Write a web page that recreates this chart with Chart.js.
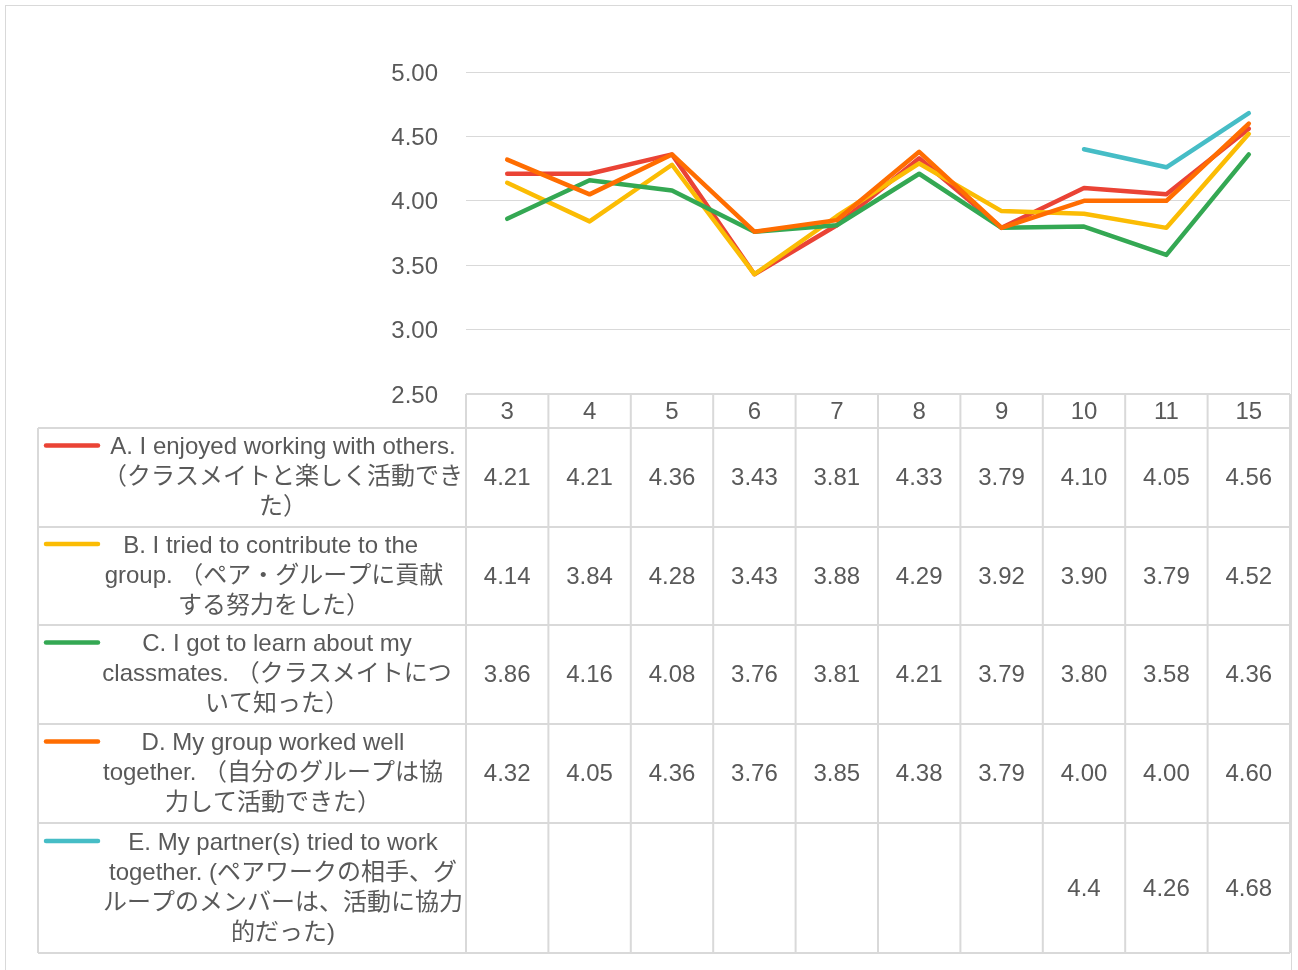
<!DOCTYPE html>
<html>
<head>
<meta charset="utf-8">
<script src="https://cdn.jsdelivr.net/npm/chart.js@4"></script>
<style>
  body { margin: 0; background: #fff; }
  canvas { display: block; }
</style>
</head>
<body>
<canvas id="groupWork" width="1298" height="970"></canvas>
<script>
// lesson numbers on the x axis / table header
const lessons = ['3', '4', '5', '6', '7', '8', '9', '10', '11', '15'];

const enjoyed     = [4.21, 4.21, 4.36, 3.43, 3.81, 4.33, 3.79, 4.10, 4.05, 4.56];
const contributed = [4.14, 3.84, 4.28, 3.43, 3.88, 4.29, 3.92, 3.90, 3.79, 4.52];
const learned     = [3.86, 4.16, 4.08, 3.76, 3.81, 4.21, 3.79, 3.80, 3.58, 4.36];
const workedWell  = [4.32, 4.05, 4.36, 3.76, 3.85, 4.38, 3.79, 4.00, 4.00, 4.60];
const partners    = [null, null, null, null, null, null, null, 4.4, 4.26, 4.68];

const enjoyedText     = ['A. I enjoyed working with others.', '（クラスメイトと楽しく活動でき', 'た）'];
const contributedText = ['B. I tried to contribute to the ', 'group. （ペア・グループに貢献', 'する努力をした）'];
const learnedText     = ['C. I got to learn about my', 'classmates. （クラスメイトにつ', 'いて知った）'];
const workedWellText  = ['D. My group worked well', 'together. （自分のグループは協', '力して活動できた）'];
const partnersText    = ['E. My partner(s) tried to work', 'together. (ペアワークの相手、グ', 'ループのメンバーは、活動に協力', '的だった)'];

const yTicks = { min: 2.5, max: 5, step: 0.5 };

const FONT = "24px 'Liberation Sans', Arial, 'Noto Sans CJK JP', sans-serif";
const TEXT = '#595959';
const RULE = '#d9d9d9';

// table geometry
const tableLeft = 38;
const headerH = 34;
const rowH = [99, 98, 99, 99, 130];
const labelCenter = [283, 274, 277, 273, 283];
const lineGap = 30;

function series(label, data, color, lines, order, fixed) {
  return {
    label: label,
    data: data,
    lines: lines,
    fixed: fixed,
    borderColor: color,
    backgroundColor: color,
    borderWidth: 4.5,
    borderCapStyle: 'round',
    borderJoinStyle: 'round',
    pointRadius: 0,
    tension: 0,
    order: order
  };
}

const dataTable = {
  id: 'dataTable',
  afterDraw(chart) {
    const ctx = chart.ctx;
    const xs = chart.scales.x;
    const area = chart.chartArea;
    const step = xs.getPixelForValue(1) - xs.getPixelForValue(0);
    const top = area.bottom;
    const headBottom = top + headerH;
    let bottom = headBottom;
    rowH.forEach(h => bottom += h);

    ctx.save();
    // outer border of the chart
    ctx.strokeStyle = RULE;
    ctx.lineWidth = 1;
    ctx.strokeRect(5.5, 5.5, 1286, 980);

    // grid of the table
    ctx.lineWidth = 2;
    ctx.beginPath();
    ctx.moveTo(area.left, top); ctx.lineTo(area.right, top);
    let y = headBottom;
    ctx.moveTo(tableLeft, y); ctx.lineTo(area.right, y);
    rowH.forEach(h => {
      y += h;
      ctx.moveTo(tableLeft, y); ctx.lineTo(area.right, y);
    });
    ctx.moveTo(tableLeft, headBottom); ctx.lineTo(tableLeft, bottom);
    for (let i = 0; i <= lessons.length; i++) {
      const x = area.left + i * step;
      ctx.moveTo(x, top); ctx.lineTo(x, bottom);
    }
    ctx.stroke();

    ctx.font = FONT;
    ctx.fillStyle = TEXT;
    ctx.textAlign = 'center';
    ctx.textBaseline = 'middle';

    // header row
    lessons.forEach((l, i) => {
      ctx.fillText(l, xs.getPixelForValue(i), top + headerH / 2 + 1);
    });

    // one row per series: legend key, wrapped label, values
    let rowTop = headBottom;
    chart.data.datasets.forEach((ds, r) => {
      const h = rowH[r];
      const mid = rowTop + h / 2;
      const firstLine = mid - (ds.lines.length - 1) * lineGap / 2;

      ctx.strokeStyle = ds.borderColor;
      ctx.lineWidth = 4.5;
      ctx.lineCap = 'round';
      ctx.beginPath();
      ctx.moveTo(46, firstLine - 2);
      ctx.lineTo(98, firstLine - 2);
      ctx.stroke();

      ctx.fillStyle = TEXT;
      ds.lines.forEach((t, k) => {
        ctx.fillText(t, labelCenter[r], firstLine + k * lineGap);
      });

      ds.data.forEach((v, i) => {
        if (v === null) return;
        const s = ds.fixed ? v.toFixed(2) : String(v);
        ctx.fillText(s, xs.getPixelForValue(i), mid + 1);
      });
      rowTop += h;
    });
    ctx.restore();
  }
};

Chart.defaults.font.family = "'Liberation Sans', Arial, sans-serif";
Chart.defaults.font.size = 24;
Chart.defaults.color = TEXT;

const chart = new Chart(document.getElementById('groupWork'), {
  type: 'line',
  data: {
    labels: lessons,
    datasets: [
      series('A', enjoyed, '#EA4335', enjoyedText, 5, true),
      series('B', contributed, '#FBBC04', contributedText, 4, true),
      series('C', learned, '#34A853', learnedText, 3, true),
      series('D', workedWell, '#FF6D01', workedWellText, 2, true),
      series('E', partners, '#46BDC6', partnersText, 1, false)
    ]
  },
  options: {
    responsive: false,
    animation: false,
    layout: {
      padding: { left: 0, right: 8, top: 72, bottom: 576 }
    },
    plugins: {
      legend: { display: false },
      tooltip: { enabled: false }
    },
    scales: {
      x: {
        type: 'category',
        offset: true,
        display: false
      },
      y: {
        min: yTicks.min,
        max: yTicks.max,
        afterFit: function (scale) { scale.width = 466; },
        ticks: {
          stepSize: yTicks.step,
          padding: 28,
          labelOffset: 2,
          callback: v => Number(v).toFixed(2)
        },
        grid: { color: RULE, lineWidth: 1, drawTicks: false },
        border: { display: false }
      }
    }
  },
  plugins: [dataTable]
});
</script>
</body>
</html>
